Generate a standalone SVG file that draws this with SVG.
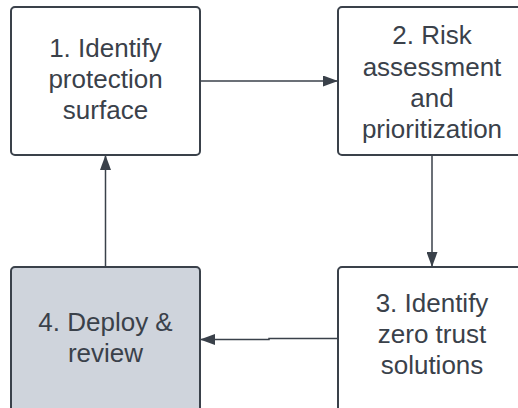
<svg xmlns="http://www.w3.org/2000/svg" width="518" height="408" viewBox="0 0 518 408">
  <style>
    .box { fill: #ffffff; stroke: #3a414a; stroke-width: 2; }
    .box.done { fill: #cfd4dc; }
    .label { font-family: "Liberation Sans", Arial, sans-serif; font-size: 26px; fill: #3a414a; text-anchor: middle; }
    .link { fill: none; stroke: #3a414a; stroke-width: 1.5; }
  </style>
  <defs>
    <marker id="arrow" markerUnits="userSpaceOnUse" markerWidth="15" markerHeight="11" refX="15" refY="5.5" orient="auto">
      <path d="M0,0 L15,5.5 L0,11 z" fill="#3a414a"/>
    </marker>
  </defs>

  <rect width="518" height="408" fill="#ffffff"/>

  <g id="connectors">
    <path class="link" d="M200,81 H338" marker-end="url(#arrow)"/>
    <path class="link" d="M432,155 V267" marker-end="url(#arrow)"/>
    <path class="link" d="M338,338.5 H269 V339.5 H200" marker-end="url(#arrow)"/>
    <path class="link" d="M105.5,267 V155" marker-end="url(#arrow)"/>
  </g>

  <g id="node-1">
    <rect class="box" x="11" y="7" width="189" height="148" rx="4"/>
    <text class="label" x="105.5" y="57">1. Identify</text>
    <text class="label" x="105.5" y="88">protection</text>
    <text class="label" x="105.5" y="119">surface</text>
  </g>

  <g id="node-2">
    <rect class="box" x="338" y="7" width="189" height="148" rx="4"/>
    <text class="label" x="432" y="44">2. Risk</text>
    <text class="label" x="432" y="76">assessment</text>
    <text class="label" x="432" y="107">and</text>
    <text class="label" x="432" y="138">prioritization</text>
  </g>

  <g id="node-3">
    <rect class="box" x="338" y="267" width="189" height="148" rx="4"/>
    <text class="label" x="432" y="312">3. Identify</text>
    <text class="label" x="432" y="343">zero trust</text>
    <text class="label" x="432" y="374">solutions</text>
  </g>

  <g id="node-4">
    <rect class="box done" x="11" y="267" width="189" height="148" rx="4"/>
    <text class="label" x="105.5" y="331">4. Deploy &amp;</text>
    <text class="label" x="105.5" y="362">review</text>
  </g>
</svg>
